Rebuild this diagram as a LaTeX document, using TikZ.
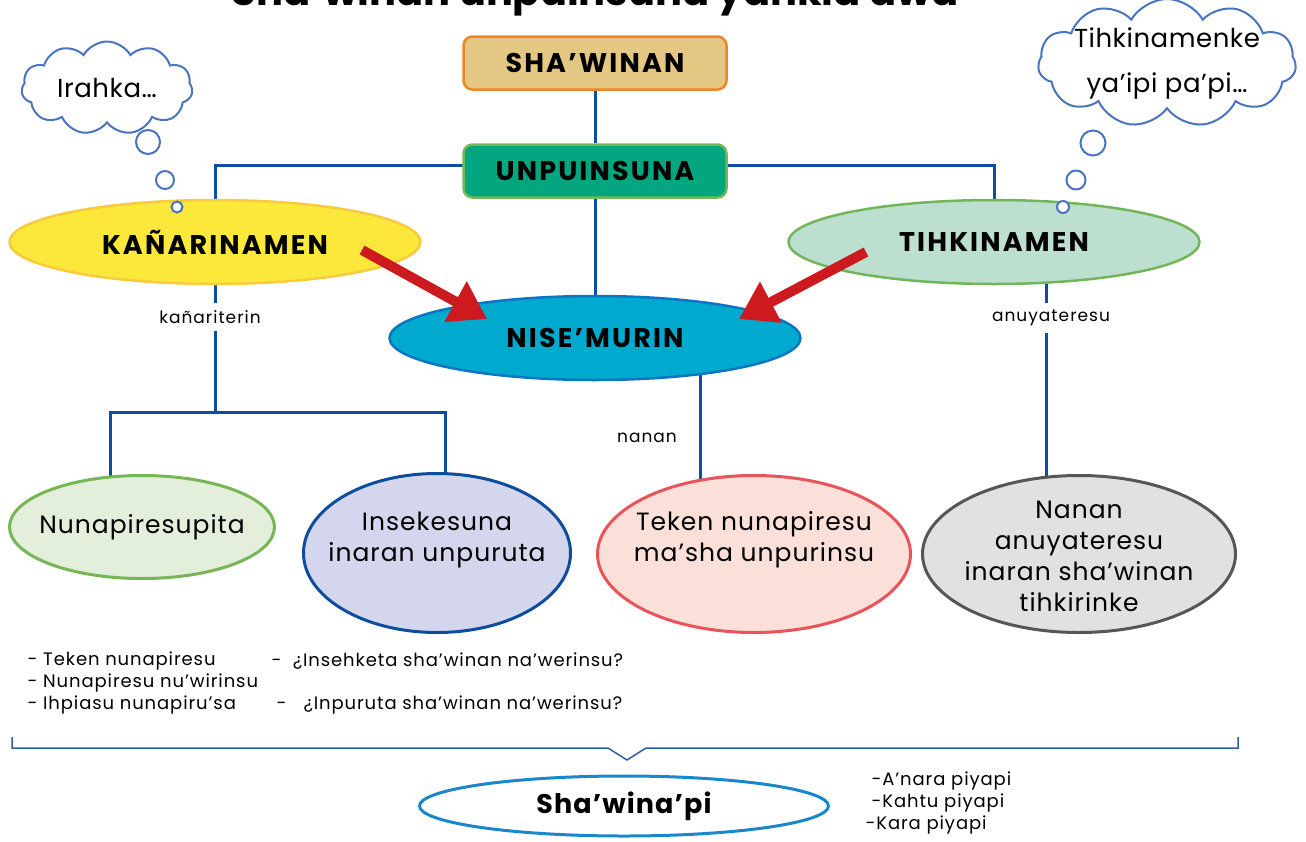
\documentclass[tikz,border=0pt]{standalone}
\usepackage{fontspec}
\setmainfont{Poppins}
\usetikzlibrary{shapes.geometric,shapes.symbols,arrows.meta,backgrounds}
\definecolor{linkblue}{HTML}{0B4EA2}
\definecolor{cloudblue}{HTML}{4A74C0}
\definecolor{arrowred}{HTML}{CC1A1F}
\definecolor{bracecol}{HTML}{2A5FA5}
\definecolor{tanfill}{HTML}{E5C784}
\definecolor{tanline}{HTML}{EE8526}
\definecolor{teal}{HTML}{03A67E}
\definecolor{tealline}{HTML}{76B857}
\definecolor{sun}{HTML}{FBE83B}
\definecolor{sunline}{HTML}{F8CB3C}
\definecolor{mint}{HTML}{BCDFCF}
\definecolor{mintline}{HTML}{73B559}
\definecolor{sky}{HTML}{00A9CE}
\definecolor{skyline}{HTML}{0C76C3}
\definecolor{pale}{HTML}{E3EFDB}
\definecolor{paleline}{HTML}{77B655}
\definecolor{lilac}{HTML}{D3D6EC}
\definecolor{lilacline}{HTML}{0E4C9C}
\definecolor{rose}{HTML}{FBE0DA}
\definecolor{roseline}{HTML}{E9545B}
\definecolor{ash}{HTML}{E1E1E1}
\definecolor{ashline}{HTML}{565656}
\definecolor{piline}{HTML}{1A87CC}

\begin{document}
\begin{tikzpicture}[x=1pt,y=-1pt,
    boldcaps/.style={font=\bfseries\fontsize{27}{27}\selectfont\addfontfeatures{LetterSpace=8}},
    box/.style={draw,rounded corners=9pt,line width=2.5pt,minimum width=263pt,minimum height=53pt,boldcaps},
    oval/.style={ellipse,draw,line width=2.5pt,inner sep=0pt,boldcaps},
    leaf/.style={ellipse,draw,line width=3pt,inner sep=0pt},
    leaftext/.style={align=center,font=\fontsize{25}{31}\selectfont\addfontfeatures{LetterSpace=4}},
    link/.style={draw=linkblue,line width=3pt},
    lbl/.style={fill=white,inner xsep=2pt,inner ysep=7pt,font=\fontsize{17}{17}\selectfont\addfontfeatures{LetterSpace=6}},
    thought/.style={cloud,cloud puffs=11,cloud puff arc=120,cloud ignores aspect,draw=cloudblue,line width=2pt,fill=white,inner sep=0pt},
    thoughttext/.style={align=center,font=\fontsize{26}{45}\selectfont\addfontfeatures{LetterSpace=2}},
    puff/.style={circle,draw=cloudblue,line width=2pt,fill=white,inner sep=0pt},
    pointer/.style={draw=arrowred,line width=10pt,-{Triangle[length=36pt,width=44pt]}},
    note/.style={anchor=west,font=\fontsize{18}{18}\selectfont\addfontfeatures{LetterSpace=5}}]
    \path[use as bounding box] (0,0) rectangle (1306,841);
    \clip (0,0) rectangle (1306,841);

    % title, cut by the top edge
    \node[anchor=base,font=\bfseries\fontsize{40}{40}\selectfont] (title) at (595,5) {Sha’winan unpuinsuna yankia awa};

    % top of the tree
    \node[box,fill=tanfill,draw=tanline] (shawinan) at (595,63) {SHA’WINAN};
    \node[box,fill=teal,draw=tealline] (unpuin) at (595,171) {UNPUINSUNA};
    \node[oval,fill=sun,draw=sunline,minimum width=411pt,minimum height=84pt] (kanari) at (215,242) {KAÑARINAMEN};
    \node[oval,fill=mint,draw=mintline,minimum width=411pt,minimum height=84pt] (tihki) at (994,242) {TIHKINAMEN};
    \node[oval,fill=sky,draw=skyline,minimum width=411pt,minimum height=84pt] (nise) at (595,338) {NISE’MURIN};

    % leaves
    \node[leaf,fill=pale,draw=paleline,minimum width=265pt,minimum height=103pt,
        label={[leaftext]center:Nunapiresupita}] (nuna) at (142,527) {};
    \node[leaf,fill=lilac,draw=lilacline,minimum width=267pt,minimum height=159pt,
        label={[leaftext,yshift=13pt]center:Insekesuna\\inaran unpuruta}] (insek) at (437,553) {};
    \node[leaf,fill=rose,draw=roseline,minimum width=313pt,minimum height=157pt,
        label={[leaftext,yshift=14pt]center:Teken nunapiresu\\ma’sha unpurinsu}] (teken) at (754,554) {};
    \node[leaf,fill=ash,draw=ashline,minimum width=313pt,minimum height=157pt,
        label={[leaftext,yshift=-2pt]center:Nanan\\anuyateresu\\inaran sha’winan\\tihkirinke}] (anuy) at (1079,554) {};

    % thought clouds
    \node[thought,minimum width=171pt,minimum height=93pt,label={[thoughttext]center:Irahka…}] (cloudL) at (107,88) {};
    \node[puff,minimum size=24pt] (puffLa) at (148,142) {};
    \node[puff,minimum size=18pt] (puffLb) at (165,180) {};
    \node[puff,minimum size=11pt] (puffLc) at (177,207) {};
    \node[thought,minimum width=258pt,minimum height=128pt,label={[thoughttext]center:Tihkinamenke\\ya’ipi pa’pi…}] (cloudR) at (1167,63) {};
    \node[puff,minimum size=25pt] (puffRa) at (1093,143) {};
    \node[puff,minimum size=19pt] (puffRb) at (1076,180) {};
    \node[puff,minimum size=12pt] (puffRc) at (1063,207) {};

    \coordinate (ksplit) at (215,412);

    \begin{pgfonlayer}{background}
    \draw[link] (shawinan) -- (unpuin);
    \draw[link] ([yshift=6pt]unpuin.center) -| (kanari);
    \draw[link] ([yshift=6pt]unpuin.center) -| (tihki);
    \draw[link] (unpuin) -- (nise);
    \draw[link] (kanari) -- (ksplit);
    \draw[link] ([xshift=-32pt]nuna.center) |- (ksplit) -| ([xshift=8pt]insek.center);
    \draw[link] ([xshift=105pt]nise.center) -- ([xshift=-54pt]teken.center);
    \draw[link] ([xshift=52pt]tihki.center) -- ([xshift=-33pt]anuy.center);
    \end{pgfonlayer}

    % labels on the links
    \node[lbl] (kanlbl) at (210,317) {kañariterin};
    \node[lbl] (anulbl) at (1051,318) {anuyateresu};
    \node[lbl,fill=none] (nanlbl) at (647,438) {nanan};

    % red arrows
    \draw[pointer] ([shift={(147,8)}]kanari.center) -- ([shift={(-108,-19)}]nise.center);
    \draw[pointer] ([shift={(-128,10)}]tihki.center) -- ([shift={(144,-19)}]nise.center);

    % notes under the leaves
    \node[note] (n1) at (24,661) {- Teken nunapiresu};
    \node[note] (n2) at (24,683) {- Nunapiresu nu’wirinsu};
    \node[note] (n3) at (24,705) {- Ihpiasu nunapiru’sa};
    \node[note] (q1) at (268,661) {-\ \ ¿Insehketa sha’winan na’werinsu?};
    \node[note] (q2) at (273,705) {-\ \ \ ¿Inpuruta sha’winan na’werinsu?};

    % brace
    \draw[bracecol,line width=1.5pt] (12,737) -- (12,748) -- (608,748) -- (627,760) -- (646,748) -- (1238,748) -- (1238,737);

    \node[oval,fill=white,draw=piline,line width=3pt,minimum width=409pt,minimum height=60pt,
        font=\bfseries\fontsize{27}{27}\selectfont\addfontfeatures{LetterSpace=4}] (pi) at (624,806) {Sha’wina’pi};
    \node[note] (p1) at (868,781) {-A’nara piyapi};
    \node[note] (p2) at (868,803) {-Kahtu piyapi};
    \node[note] (p3) at (862,825) {-Kara piyapi};
\end{tikzpicture}
\end{document}
